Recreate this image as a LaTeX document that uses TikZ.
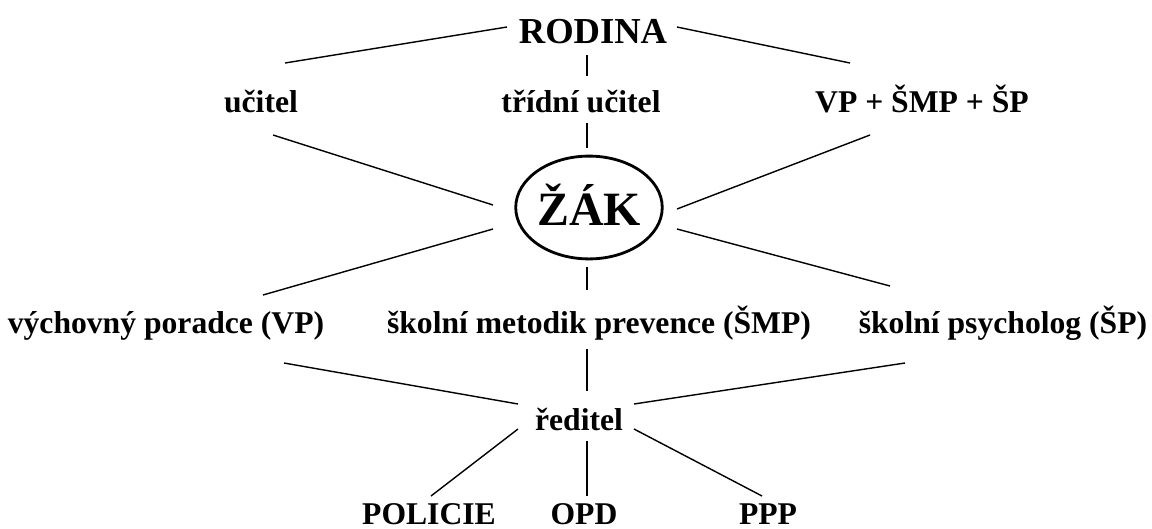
\documentclass[tikz,border=0pt]{standalone}
\usepackage{fontspec}
\setmainfont{Liberation Serif}
\usepackage{tikz}
\usetikzlibrary{shapes.geometric}

\tikzset{
  role/.style={font=\bfseries\fontsize{22.5}{27}\selectfont, anchor=base, inner sep=0pt},
  link/.style={line width=1pt},
}

\begin{document}
\begin{tikzpicture}[x=0.025cm,y=-0.025cm]
			\useasboundingbox (0,0) rectangle (1152,528);
			\clip (0,0) rectangle (1152,528);
			
			% labels
			\node[role, font=\bfseries\fontsize{26}{30}\selectfont] (rodina) at (593,43) {RODINA};
			\node[role] (ucitel) at (261,112) {učitel};
			\node[role] (tridni) at (581,112) {třídní učitel};
			\node[role] (vpsmp) at (922,112) {VP + ŠMP + ŠP};
			
			\node[draw, ellipse, line width=2pt, inner sep=0pt, minimum width=3.6cm, minimum height=2.57cm,
			      text height=0.875cm, text depth=0pt, font=\bfseries\fontsize{34}{40}\selectfont] (zak) at (589,207.5) {ŽÁK};
			
			\node[role] (vp) at (166,333) {výchovný poradce (VP)};
			\node[role] (smp) at (599,333) {školní metodik prevence (ŠMP)};
			\node[role] (sp) at (1003,333) {školní psycholog (ŠP)};
			
			\node[role] (reditel) at (579,430) {ředitel};
			
			\node[role] (policie) at (429,524) {POLICIE};
			\node[role] (opd) at (584,524) {OPD};
			\node[role] (ppp) at (768,524) {PPP};
			
			% line ends
			\coordinate (rodina-w) at (507,27);
			\coordinate (rodina-e) at (677,27);
			\coordinate (rodina-s) at (587,55);
			\coordinate (ucitel-n) at (285,63);
			\coordinate (ucitel-s) at (273,135);
			\coordinate (tridni-n) at (587,76);
			\coordinate (tridni-s) at (587,123);
			\coordinate (vpsmp-n) at (850,63);
			\coordinate (vpsmp-s) at (870,135);
			
			\coordinate (zak-nw) at (493,205);
			\coordinate (zak-n) at (587,148);
			\coordinate (zak-ne) at (677,209);
			\coordinate (zak-sw) at (493,229);
			\coordinate (zak-s) at (587,267);
			\coordinate (zak-se) at (677,229);
			
			\coordinate (vp-n) at (263,295);
			\coordinate (vp-s) at (284,363);
			\coordinate (smp-n) at (587,290);
			\coordinate (smp-s) at (587,349);
			\coordinate (sp-n) at (890,286);
			\coordinate (sp-s) at (905,363);
			
			\coordinate (reditel-nw) at (518,404);
			\coordinate (reditel-n) at (587,391);
			\coordinate (reditel-ne) at (634,404);
			\coordinate (reditel-sw) at (518,429);
			\coordinate (reditel-s) at (587,441);
			\coordinate (reditel-se) at (634,429);
			
			\coordinate (policie-n) at (431,496);
			\coordinate (opd-n) at (587,496);
			\coordinate (ppp-n) at (762,496);
			
			% connectors
			\draw[link] (rodina-w) -- (ucitel-n);
			\draw[link] (rodina-s) -- (tridni-n);
			\draw[link] (rodina-e) -- (vpsmp-n);
			
			\draw[link] (ucitel-s) -- (zak-nw);
			\draw[link] (tridni-s) -- (zak-n);
			\draw[link] (vpsmp-s) -- (zak-ne);
			
			\draw[link] (zak-sw) -- (vp-n);
			\draw[link] (zak-s) -- (smp-n);
			\draw[link] (zak-se) -- (sp-n);
			
			\draw[link] (vp-s) -- (reditel-nw);
			\draw[link] (smp-s) -- (reditel-n);
			\draw[link] (sp-s) -- (reditel-ne);
			
			\draw[link] (reditel-sw) -- (policie-n);
			\draw[link] (reditel-s) -- (opd-n);
			\draw[link] (reditel-se) -- (ppp-n);
		\end{tikzpicture}
\end{document}
